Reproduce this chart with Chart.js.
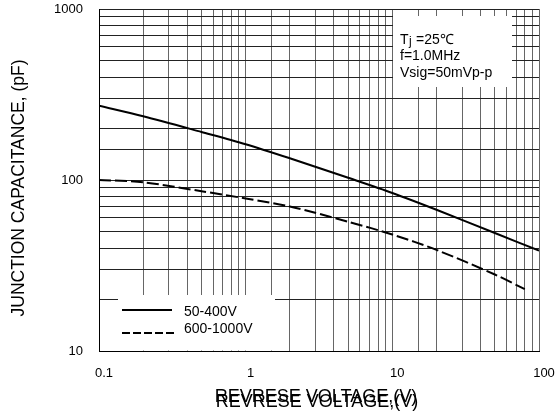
<!DOCTYPE html>
<html>
<head>
<meta charset="utf-8">
<script src="https://cdn.jsdelivr.net/npm/chart.js@4/dist/chart.umd.min.js"></script>
<style>
  html, body { margin: 0; padding: 0; background: #fff; }
  #wrap { width: 556px; height: 415px; position: relative; }
</style>
</head>
<body>
<div id="wrap"><canvas id="chart" width="556" height="415"></canvas></div>
<script>
// values (log-log)
const voltagesLow = [0.1, 0.2, 0.5, 1, 2, 5, 10, 20, 50, 100]
const cap50to400 = [272, 236, 191, 162, 134, 103, 84, 67, 49, 38.6]
const voltagesHigh = [0.1, 0.2, 0.5, 1, 2, 5, 10, 20, 50, 80]
const cap600to1000 = [100, 97, 86, 78, 70, 57, 48, 39, 28, 23]

const seriesLabels = ['50-400V', '600-1000V']
const xTickLabels = ['0.1', '1', '10', '100']
const yTickLabels = ['10', '100', '1000']
const conditions = ['=25\u2103', 'f=1.0MHz', 'Vsig=50mVp-p']

const FONT = '"Liberation Sans", Arial, sans-serif'

function toPoints(xs, ys) {
  return xs.map((x, i) => ({ x, y: ys[i] }))
}

function majorLabel(value, list) {
  const txt = String(value)
  return list.includes(txt) ? txt : ''
}

const overlayPlugin = {
  id: 'overlay',
  beforeDatasetsDraw(chart) {
    const { ctx } = chart
    const ys = chart.scales.y
    ctx.save()
    ctx.fillStyle = '#fff'
    // legend box and conditions box sit on cleared grid
    ctx.fillRect(118, 295, 157, ys.bottom - 295 - 0.5)
    ctx.fillRect(393, 16, 119, 71)
    ctx.restore()
  },
  afterDraw(chart) {
    const { ctx } = chart
    const ds = chart.data.datasets
    ctx.save()
    ctx.fillStyle = '#000'
    ctx.strokeStyle = '#000'

    // legend
    ctx.font = '14px ' + FONT
    ctx.textBaseline = 'middle'
    ctx.lineWidth = 2
    const rows = [310, 333]
    ds.forEach((d, i) => {
      ctx.setLineDash(i === 0 ? [] : [8, 3])
      ctx.beginPath()
      ctx.moveTo(122, rows[i])
      ctx.lineTo(i === 0 ? 172 : 177, rows[i])
      ctx.stroke()
      ctx.fillText(d.label, 184, i === 0 ? 312 : 329)
    })
    ctx.setLineDash([])

    // conditions
    ctx.fillText('T', 400, 40)
    ctx.font = '12px ' + FONT
    ctx.fillText('j', 409, 42)
    ctx.font = '14px ' + FONT
    ctx.fillText(conditions[0], 416, 40)
    ctx.fillText(conditions[1], 400, 56)
    ctx.fillText(conditions[2], 400, 73)

    // axis titles
    ctx.font = '18px ' + FONT
    ctx.textAlign = 'center'
    ctx.fillText('REVRESE VOLTAGE,(V)', 316, 397)
    ctx.fillText('REVRESE VOLTAGE,(V)', 317, 402)
    ctx.font = '17.5px ' + FONT
    ctx.translate(19, 188)
    ctx.rotate(-Math.PI / 2)
    ctx.fillText('JUNCTION CAPACITANCE, (pF)', 0, 0)
    ctx.restore()
  }
}

new Chart(document.getElementById('chart'), {
  type: 'line',
  data: {
    datasets: [
      {
        label: seriesLabels[0],
        data: toPoints(voltagesLow, cap50to400),
        borderColor: '#000',
        borderWidth: 2,
        pointRadius: 0,
        tension: 0.3,
        fill: false
      },
      {
        label: seriesLabels[1],
        data: toPoints(voltagesHigh, cap600to1000),
        borderColor: '#000',
        borderWidth: 2,
        borderDash: [12, 4],
        pointRadius: 0,
        tension: 0.3,
        fill: false
      }
    ]
  },
  options: {
    responsive: false,
    animation: false,
    events: [],
    layout: { padding: { top: 9, right: 17, bottom: 0, left: 0 } },
    plugins: {
      legend: { display: false },
      tooltip: { enabled: false }
    },
    scales: {
      x: {
        type: 'logarithmic',
        min: 0.1,
        max: 100,
        afterFit(scale) {
          scale.height = 64
          scale.paddingLeft = 0
          scale.paddingRight = 0
        },
        grid: { color: '#666', lineWidth: 1, drawTicks: false },
        border: { color: '#000', width: 1 },
        ticks: {
          autoSkip: false,
          maxRotation: 0,
          padding: 15,
          labelOffset: 5,
          color: '#000',
          font: { size: 13, family: FONT },
          callback: (v) => majorLabel(v, xTickLabels)
        }
      },
      y: {
        type: 'logarithmic',
        min: 10,
        max: 1000,
        afterFit(scale) {
          scale.width = 99
          scale.paddingTop = 0
          scale.paddingBottom = 0
        },
        grid: { color: '#222', lineWidth: 1, drawTicks: false },
        border: { color: '#000', width: 1 },
        ticks: {
          autoSkip: false,
          padding: 16,
          color: '#000',
          font: { size: 13, family: FONT },
          callback: (v) => majorLabel(v, yTickLabels)
        }
      }
    }
  },
  plugins: [overlayPlugin]
})
</script>
</body>
</html>
